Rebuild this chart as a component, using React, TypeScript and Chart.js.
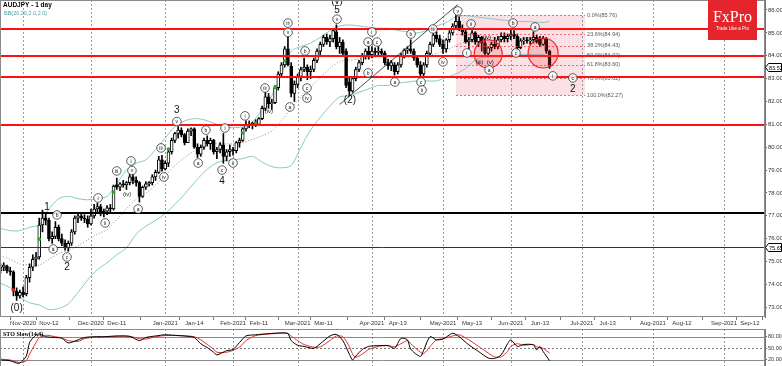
import React, { useEffect, useRef } from 'react';
import { Chart, registerables } from 'chart.js';
Chart.register(...registerables);

const FONT = "'Liberation Sans', Arial, sans-serif";

// ---- daily candles, index 0 = 22 Oct 2020 (weekdays) ----
const openP = [
  74.6, 74.75, 74.8, 74.6, 74.55, 73.7, 73.5, 73.65, 73.6, 74.3,
  74.75, 75.1, 75.2, 76.6, 76.9, 76.8, 76.0, 76.1, 76.5, 76.0,
  75.8, 75.6, 75.8, 76.3, 76.9, 77.0, 76.9, 76.85, 76.65, 77.0,
  77.3, 77.4, 77.1, 77.2, 77.35, 77.3, 78.35, 78.25, 78.4, 78.35,
  78.45, 78.7, 78.55, 78.45, 77.85, 78.25, 78.4, 78.45, 78.7, 78.9,
  79.45, 79.05, 79.3, 79.8, 80.3, 80.6, 80.75, 80.55, 80.2, 80.7,
  80.8, 80.0, 79.7, 80.0, 80.3, 80.15, 80.3, 79.8, 79.9, 80.1,
  79.6, 79.8, 79.9, 79.85, 80.2, 80.3, 80.8, 81.0, 80.95, 81.05,
  81.0, 81.25, 81.7, 82.2, 81.9, 81.95, 82.6, 83.2, 83.6, 84.3,
  83.55, 82.35, 82.75, 83.1, 83.4, 83.5, 83.3, 83.4, 83.8, 84.2,
  84.5, 84.8, 84.6, 84.75, 85.05, 84.4, 84.6, 84.2, 82.85, 82.45,
  83.0, 83.4, 83.7, 84.0, 84.2, 84.05, 84.2, 84.15, 84.2, 84.1,
  83.7, 83.55, 83.6, 83.3, 83.6, 84.0, 84.25, 84.3, 84.2, 83.9,
  83.6, 83.2, 83.6, 84.1, 84.5, 84.9, 84.75, 84.5, 84.3, 84.7,
  85.0, 85.3, 85.5, 85.2, 85.05, 84.6, 84.7, 85.0, 84.6, 84.8,
  84.55, 84.1, 84.35, 84.5, 84.4, 84.7, 84.85, 84.75, 84.85, 84.95,
  84.85, 84.35, 84.65, 84.7, 84.65, 84.7, 84.8, 84.75, 84.5, 84.75,
  84.2,
];
const highP = [
  74.9, 74.95, 74.85, 74.75, 74.6, 73.85, 73.75, 73.9, 74.4, 74.9,
  75.3, 75.4, 76.9, 77.25, 77.1, 76.9, 76.3, 76.75, 76.6, 76.2,
  75.95, 75.9, 76.4, 77.0, 77.1, 77.15, 77.05, 77.0, 77.3, 77.5,
  77.55, 77.5, 77.3, 77.45, 77.5, 78.35, 78.65, 78.45, 78.55, 78.5,
  78.85, 78.85, 78.7, 78.5, 78.3, 78.5, 78.5, 78.8, 79.0, 79.6,
  79.65, 79.4, 79.9, 80.4, 80.65, 80.9, 80.85, 80.6, 80.8, 80.85,
  80.85, 80.15, 80.1, 80.4, 80.5, 80.4, 80.35, 80.0, 80.2, 80.6,
  79.9, 80.1, 80.0, 80.25, 80.4, 80.85, 81.15, 81.15, 81.1, 81.2,
  81.3, 81.8, 82.4, 82.35, 82.1, 82.7, 83.3, 83.7, 84.4, 84.85,
  83.7, 82.9, 83.2, 83.5, 83.9, 83.6, 83.55, 83.9, 84.3, 84.6,
  84.9, 84.95, 84.9, 85.2, 85.35, 84.8, 84.7, 84.3, 83.05, 83.1,
  83.5, 83.8, 84.1, 84.3, 84.4, 84.4, 84.35, 84.4, 84.3, 84.2,
  83.85, 83.8, 83.7, 83.7, 84.1, 84.3, 84.4, 84.7, 84.3, 84.0,
  83.75, 83.7, 84.2, 84.6, 85.0, 85.05, 84.9, 84.7, 84.75, 85.1,
  85.4, 85.76, 85.7, 85.35, 85.15, 84.8, 85.1, 85.05, 84.9, 84.85,
  84.75, 84.4, 84.6, 84.8, 84.85, 85.0, 85.0, 84.95, 85.15, 85.1,
  84.95, 84.75, 84.8, 84.8, 84.8, 85.05, 84.9, 84.85, 84.85, 84.8,
  84.25,
];
const lowP = [
  74.5, 74.6, 74.5, 74.4, 73.5, 73.3, 73.4, 73.45, 73.5, 74.1,
  74.6, 74.8, 75.1, 76.3, 76.6, 75.9, 75.8, 76.0, 75.9, 75.7,
  75.5, 75.45, 75.7, 76.2, 76.7, 76.8, 76.7, 76.5, 76.6, 76.9,
  77.1, 77.0, 76.95, 77.05, 77.15, 77.25, 78.15, 78.1, 78.25, 78.15,
  78.35, 78.4, 78.3, 77.6, 77.8, 78.15, 78.3, 78.35, 78.55, 78.85,
  78.95, 79.0, 79.15, 79.7, 80.2, 80.4, 80.45, 80.1, 80.2, 80.5,
  79.95, 79.55, 79.6, 79.9, 80.05, 79.9, 79.7, 79.5, 79.75, 79.3,
  79.4, 79.6, 79.65, 79.75, 80.0, 80.25, 80.7, 80.85, 80.8, 80.9,
  80.95, 81.2, 81.6, 81.7, 81.65, 81.9, 82.5, 83.1, 83.5, 83.55,
  82.2, 82.0, 82.6, 82.9, 83.3, 82.95, 83.0, 83.3, 83.7, 84.05,
  84.4, 84.5, 84.4, 84.6, 84.3, 84.1, 84.0, 82.6, 82.27, 82.4,
  82.9, 83.3, 83.6, 83.85, 83.85, 83.9, 84.05, 84.0, 84.0, 83.6,
  83.4, 83.35, 83.15, 83.2, 83.5, 83.9, 84.1, 84.1, 83.8, 83.5,
  83.05, 83.1, 83.5, 84.0, 84.4, 84.6, 84.4, 84.1, 84.15, 84.6,
  84.9, 85.2, 85.1, 84.9, 84.55, 84.3, 84.6, 84.5, 84.4, 84.2,
  84.0, 83.95, 84.2, 84.3, 84.3, 84.6, 84.6, 84.6, 84.7, 84.75,
  84.2, 84.3, 84.5, 84.55, 84.5, 84.55, 84.55, 84.4, 84.45, 84.1,
  83.45,
];
const closeP = [
  74.75, 74.85, 74.6, 74.55, 73.7, 73.5, 73.65, 73.55, 74.3, 74.75,
  75.1, 75.2, 76.6, 76.9, 76.8, 76.0, 76.1, 76.5, 76.0, 75.8,
  75.6, 75.8, 76.3, 76.9, 77.0, 76.9, 76.85, 76.65, 77.0, 77.3,
  77.4, 77.1, 77.2, 77.35, 77.3, 78.3, 78.25, 78.4, 78.35, 78.45,
  78.7, 78.55, 78.45, 77.85, 78.25, 78.4, 78.45, 78.7, 78.9, 79.45,
  79.05, 79.3, 79.8, 80.3, 80.6, 80.75, 80.55, 80.2, 80.7, 80.8,
  80.0, 79.7, 80.0, 80.3, 80.15, 80.3, 79.8, 79.9, 80.1, 79.6,
  79.8, 79.9, 79.85, 80.2, 80.3, 80.8, 81.0, 80.95, 81.05, 81.0,
  81.25, 81.7, 82.2, 81.9, 81.95, 82.6, 83.2, 83.6, 84.3, 83.6,
  82.35, 82.75, 83.1, 83.4, 83.5, 83.3, 83.4, 83.8, 84.2, 84.5,
  84.8, 84.6, 84.75, 85.1, 84.4, 84.6, 84.1, 82.7, 82.45, 83.0,
  83.4, 83.7, 84.0, 84.2, 84.05, 84.2, 84.15, 84.2, 84.1, 83.7,
  83.55, 83.7, 83.3, 83.6, 84.0, 84.25, 84.3, 84.2, 83.9, 83.6,
  83.2, 83.6, 84.1, 84.5, 84.9, 84.75, 84.5, 84.3, 84.7, 85.0,
  85.3, 85.5, 85.2, 85.05, 84.6, 84.7, 85.0, 84.6, 84.8, 84.55,
  84.1, 84.35, 84.5, 84.4, 84.7, 84.85, 84.75, 84.85, 84.95, 84.85,
  84.35, 84.65, 84.7, 84.65, 84.7, 84.8, 84.6, 84.5, 84.75, 84.2,
  83.52,
];

// ---- Bollinger bands BB(20,2) read at sparse bars ----
const bbIdx = [0, 3, 6, 9, 12, 15, 18, 21, 24, 27, 30, 33, 36, 39, 42, 45, 48, 51, 54, 57, 60, 63, 66, 69, 72, 75, 78, 81, 84, 87, 90, 93, 96, 99, 102, 105, 108, 111, 114, 117, 120, 123, 126, 129, 132, 135, 138, 141, 144, 147, 150, 153, 156, 159, 162, 165, 168, 170];
const bbUpper = [76.45, 76.35, 76.35, 76.5, 76.6, 77.3, 77.75, 77.85, 77.75, 77.7, 77.75, 77.85, 78.4, 79.0, 79.3, 79.45, 79.9, 80.4, 80.9, 81.15, 81.25, 81.2, 81.05, 80.9, 80.85, 80.9, 81.1, 81.65, 82.25, 83.2, 84.2, 84.4, 84.55, 84.8, 85.1, 85.3, 85.35, 85.3, 85.25, 85.2, 85.2, 85.1, 85.05, 85.0, 85.1, 85.3, 85.45, 85.7, 85.75, 85.7, 85.65, 85.6, 85.55, 85.5, 85.5, 85.48, 85.45, 85.5];
const bbMiddle = [75.25, 75.1, 74.9, 74.85, 74.85, 75.1, 75.35, 75.5, 75.7, 75.95, 76.2, 76.4, 76.85, 77.3, 77.75, 78.0, 78.35, 78.75, 79.2, 79.55, 79.85, 80.05, 80.15, 80.15, 80.15, 80.2, 80.35, 80.5, 80.7, 81.15, 81.7, 82.2, 82.65, 83.05, 83.45, 83.75, 83.8, 83.85, 83.9, 83.95, 83.95, 83.95, 83.95, 83.95, 84.0, 84.1, 84.25, 84.45, 84.6, 84.75, 84.8, 84.78, 84.78, 84.78, 84.78, 84.77, 84.75, 84.68];
const bbLower = [74.05, 73.85, 73.45, 73.2, 73.1, 72.9, 72.95, 73.15, 73.65, 74.2, 74.65, 74.95, 75.3, 75.6, 76.2, 76.55, 76.8, 77.1, 77.5, 77.95, 78.45, 78.9, 79.25, 79.4, 79.45, 79.5, 79.6, 79.35, 79.15, 79.1, 79.2, 80.0, 80.75, 81.3, 81.8, 82.2, 82.25, 82.4, 82.55, 82.7, 82.7, 82.8, 82.85, 82.9, 82.9, 82.9, 83.05, 83.2, 83.45, 83.8, 83.95, 83.96, 84.0, 84.05, 84.05, 84.06, 84.05, 83.86];

// ---- Stochastic slow (14,3), sparse readings ----
const stoIdx = [0, 3, 5, 6, 8, 9, 11, 12, 14, 17, 19, 21, 24, 26, 29, 32, 36, 40, 43, 45, 48, 51, 55, 58, 60, 62, 64, 66, 67, 70, 72, 74, 76, 79, 83, 87, 89, 90, 92, 94, 97, 99, 102, 104, 106, 108, 109, 110, 112, 114, 117, 120, 122, 124, 126, 127, 130, 131, 133, 135, 137, 140, 142, 145, 148, 151, 153, 155, 157, 158, 160, 162, 165, 166, 167, 168, 170];
const stoMain = [20, 18, 12, 12, 30, 65, 85, 87, 80, 78, 76, 64, 72, 78, 80, 80, 82, 81, 70, 78, 82, 85, 83, 81, 78, 62, 52, 40, 33, 44, 47, 65, 82, 85, 88, 90, 88, 70, 58, 55, 50, 62, 82, 86, 70, 35, 20, 30, 47, 55, 57, 57, 50, 76, 72, 48, 29, 45, 80, 72, 74, 89, 80, 59, 42, 25, 24, 33, 62, 72, 55, 60, 59, 46, 55, 42, 18];
const stoSignal = [22, 20, 15, 13, 18, 35, 65, 78, 84, 80, 77, 70, 68, 75, 79, 80, 81, 81, 75, 74, 80, 83, 83, 82, 80, 72, 60, 48, 40, 40, 45, 53, 70, 83, 87, 89, 89, 82, 70, 60, 53, 54, 70, 82, 80, 55, 35, 27, 35, 47, 55, 57, 54, 62, 70, 62, 40, 36, 55, 72, 75, 82, 85, 72, 55, 38, 28, 28, 42, 55, 62, 58, 60, 54, 52, 50, 38];

// ---- axes ----
const xMin = -0.155;
const xMax = 236.7;
const yMin = 72.576;
const yMax = 86.437;
const xTickIdx = [7, 15, 28, 36, 51, 60, 72, 80, 92, 100, 115, 123, 137, 146, 158, 167, 180, 188, 202, 211, 224, 232];
const xTickText = ['Nov-2020', 'Nov-12', 'Dec-2020', 'Dec-11', 'Jan-2021', 'Jan-14', 'Feb-2021', 'Feb-11', 'Mar-2021', 'Mar-11', 'Apr-2021', 'Apr-13', 'May-2021', 'May-13', 'Jun-2021', 'Jun-13', 'Jul-2021', 'Jul-13', 'Aug-2021', 'Aug-12', 'Sep-2021', 'Sep-12'];
const monthStartIdx = [7, 28, 51, 72, 92, 115, 137, 158, 180, 202, 224];
const yTicks = [73, 74, 75, 76, 77, 78, 79, 80, 81, 82, 83, 84, 85, 86];
const stoTicks = [20, 50, 80];

// ---- drawings ----
const redLevels = [85.15, 84.0, 83.05, 80.95];
const blackLevel = 77.11;
const thinLevel = 75.65;
const priceBoxes = [83.52, 75.65];
const fibFrom = 141;
const fibTo = 181;
const fibPct = ['0.0', '23.6', '38.2', '50.0', '61.8', '78.6', '100.0'];
const fibPrice = [85.76, 84.94, 84.43, 84.02, 83.6, 83.02, 82.27];
const trendIdx = [105, 141.6];
const trendPrice = [81.87, 86.24];
const circleIdx = [151, 168];
const circlePrice = [84.08, 84.12];
const greenIdx = [12, 35, 52, 75, 79, 85, 88];
const greenVal = [75.98, 78.04, 79.92, 80.62, 81.06, 82.63, 83.77];
const redDotIdx = [4];
const redDotVal = [73.76];

// [text, bar index, price, kind]  c = circled, p = small plain, b = big
const waveLabels: [string, number, number, string][] = [
  ['(0)', 5, 72.97, 'b'], ['1', 14.4, 77.39, 'b'], ['b', 17.5, 77.04, 'c'], ['a', 16.3, 75.55, 'c'],
  ['c', 20.6, 75.2, 'c'], ['2', 20.6, 74.76, 'b'], ['i', 30.2, 77.78, 'c'], ['ii', 32.4, 76.69, 'c'],
  ['iii', 36, 78.96, 'c'], ['(iv)', 39.2, 77.95, 'p'], ['i', 40.4, 79.4, 'c'], ['v', 40.7, 78.98, 'c'],
  ['a', 42.6, 77.3, 'c'], ['iii', 49.7, 79.97, 'c'], ['iv', 50.6, 78.7, 'c'], ['v', 54.6, 81.12, 'c'],
  ['3', 54.6, 81.6, 'b'], ['a', 61.2, 79.31, 'c'], ['b', 63.6, 80.75, 'c'], ['i', 69.5, 80.84, 'c'],
  ['c', 68.6, 79.0, 'c'], ['4', 68.6, 78.5, 'b'], ['ii', 72, 79.31, 'c'], ['i', 75.7, 81.37, 'c'],
  ['iii', 81.9, 82.59, 'c'], ['(iv)', 83.1, 81.58, 'p'], ['iii', 89, 85.43, 'c'], ['v', 89, 85.02, 'c'],
  ['a', 89.6, 81.76, 'c'], ['b', 94.3, 84.21, 'c'], ['c', 94.9, 82.59, 'c'], ['iv', 94.9, 82.15, 'c'],
  ['(v)', 104.2, 86.4, 'b'], ['5', 104.2, 85.98, 'b'], ['v', 104.2, 85.6, 'c'], ['(2)', 108.2, 82.06, 'b'],
  ['i', 115, 85.04, 'c'], ['a', 113.8, 84.6, 'c'], ['c', 116.6, 84.6, 'c'], ['b', 113.8, 83.25, 'c'],
  ['a', 122.1, 82.85, 'c'], ['b', 127.1, 84.95, 'c'], ['c', 130.2, 82.85, 'c'], ['ii', 130.5, 82.5, 'c'],
  ['iii', 133.9, 85.17, 'c'], ['iv', 137, 83.73, 'c'], ['v', 141.6, 85.96, 'c'], ['i', 144.4, 84.12, 'c'],
  ['ii', 145.7, 85.39, 'c'], ['(iii)', 148.3, 83.73, 'p'], ['(v)', 151.6, 83.73, 'p'], ['(iv)', 150.6, 84.82, 'p'],
  ['a', 151.3, 83.38, 'c'], ['b', 158.7, 85.43, 'c'], ['c', 159.6, 84.12, 'c'], ['a', 165.5, 85.26, 'c'],
  ['i', 171, 83.12, 'c'], ['c', 177.2, 83.03, 'c'], ['2', 177.2, 82.55, 'b'],
];

function hline(ctx: any, x1: number, x2: number, y: number) {
  ctx.beginPath(); ctx.moveTo(x1, y); ctx.lineTo(x2, y); ctx.stroke();
}
function vline(ctx: any, x: number, y1: number, y2: number) {
  ctx.beginPath(); ctx.moveTo(x, y1); ctx.lineTo(x, y2); ctx.stroke();
}

const mainPlugin = {
  id: 'mainDeco',
  beforeDatasetsDraw(chart: any) {
    const { ctx, chartArea: a, scales } = chart;
    const x = scales.x, y = scales.y;
    ctx.save();
    const fx1 = x.getPixelForValue(fibFrom), fx2 = x.getPixelForValue(fibTo);
    const fy1 = y.getPixelForValue(fibPrice[0]), fy2 = y.getPixelForValue(fibPrice[fibPrice.length - 1]);
    ctx.fillStyle = 'rgba(230,80,100,0.17)';
    ctx.fillRect(fx1, fy1, fx2 - fx1, fy2 - fy1);
    ctx.strokeStyle = '#9a9a9a'; ctx.lineWidth = 1; ctx.setLineDash([2, 2]);
    for (const m of monthStartIdx) {
      const gx = Math.round(x.getPixelForValue(m)) + 0.5;
      vline(ctx, gx, a.top, a.bottom);
    }
    ctx.restore();
  },
  afterDatasetsDraw(chart: any) {
    const { ctx, chartArea: a, scales } = chart;
    const x = scales.x, y = scales.y;
    ctx.save();
    // fib lines + labels
    const fx1 = x.getPixelForValue(fibFrom), fx2 = x.getPixelForValue(fibTo);
    ctx.setLineDash([2, 2]); ctx.lineWidth = 1; ctx.strokeStyle = 'rgba(225,60,70,0.75)';
    fibPrice.forEach((p) => hline(ctx, fx1, fx2, Math.round(y.getPixelForValue(p)) + 0.5));
    ctx.setLineDash([]);
    ctx.font = `5.5px ${FONT}`; ctx.fillStyle = '#555'; ctx.textBaseline = 'middle'; ctx.textAlign = 'left';
    fibPrice.forEach((p, k) => ctx.fillText(`${fibPct[k]}%(${p.toFixed(2)})`, fx2 + 2, y.getPixelForValue(p)));
    // horizontal levels
    ctx.strokeStyle = '#ff1010'; ctx.lineWidth = 2;
    redLevels.forEach((p) => hline(ctx, a.left, a.right, Math.round(y.getPixelForValue(p))));
    ctx.strokeStyle = '#000'; ctx.lineWidth = 2;
    hline(ctx, a.left, a.right, Math.round(y.getPixelForValue(blackLevel)));
    ctx.strokeStyle = '#333'; ctx.lineWidth = 1;
    hline(ctx, a.left, a.right, Math.round(y.getPixelForValue(thinLevel)) + 0.5);
    // trendline
    ctx.strokeStyle = '#222'; ctx.lineWidth = 0.8;
    ctx.beginPath();
    ctx.moveTo(x.getPixelForValue(trendIdx[0]), y.getPixelForValue(trendPrice[0]));
    ctx.lineTo(x.getPixelForValue(trendIdx[1]), y.getPixelForValue(trendPrice[1]));
    ctx.stroke();
    // red circles
    circleIdx.forEach((ci, k) => {
      ctx.beginPath();
      ctx.arc(x.getPixelForValue(ci), y.getPixelForValue(circlePrice[k]), k === 0 ? 14 : 15, 0, Math.PI * 2);
      ctx.fillStyle = 'rgba(255,60,60,0.22)'; ctx.fill();
      ctx.strokeStyle = '#ff2020'; ctx.lineWidth = 1.2; ctx.stroke();
    });
    // wave labels
    ctx.textAlign = 'center'; ctx.textBaseline = 'middle';
    for (const [t, wi, wp, kind] of waveLabels) {
      const lx = x.getPixelForValue(wi), ly = y.getPixelForValue(wp);
      if (kind === 'c') {
        ctx.beginPath(); ctx.arc(lx, ly, 4.3, 0, Math.PI * 2);
        ctx.fillStyle = 'rgba(255,255,255,0.85)'; ctx.fill();
        ctx.strokeStyle = '#333'; ctx.lineWidth = 0.8; ctx.stroke();
        ctx.fillStyle = '#111'; ctx.font = `5px ${FONT}`;
        ctx.fillText(t, lx, ly + 0.3);
      } else if (kind === 'b') {
        ctx.fillStyle = '#111'; ctx.font = `10px ${FONT}`;
        ctx.fillText(t, lx, ly);
      } else {
        ctx.fillStyle = '#111'; ctx.font = `6px ${FONT}`;
        ctx.fillText(t, lx, ly);
      }
    }
    // border
    ctx.strokeStyle = '#8a8a8a'; ctx.lineWidth = 1;
    ctx.strokeRect(a.left + 0.5, a.top + 0.5, a.right - a.left - 1, a.bottom - a.top - 1);
    // logo
    const lr = a.right - 8, ll = lr - 49;
    ctx.fillStyle = '#e5252b'; ctx.fillRect(ll, 0, lr - ll, 40);
    ctx.fillStyle = '#fff'; ctx.textAlign = 'center'; ctx.textBaseline = 'alphabetic';
    ctx.font = `16px 'Liberation Serif', 'DejaVu Serif', serif`;
    ctx.fillText('FxPro', (ll + lr) / 2, 22);
    ctx.font = `4.5px ${FONT}`;
    ctx.fillText('Trade Like a Pro', (ll + lr) / 2, 30);
    // title
    ctx.textAlign = 'left'; ctx.textBaseline = 'middle';
    ctx.fillStyle = '#000'; ctx.font = `bold 6.5px ${FONT}`;
    ctx.fillText('AUDJPY - 1 day', 3, 5);
    ctx.fillStyle = '#4a9e9e'; ctx.font = `5.5px ${FONT}`;
    ctx.fillText('BB(20,20,2.0,2.0)', 4, 13);
    // price boxes on axis
    priceBoxes.forEach((p) => {
      const by = Math.round(y.getPixelForValue(p)) + 0.5;
      const bx = a.right + 0.5, br = chart.width - 0.5;
      ctx.beginPath();
      ctx.moveTo(bx, by); ctx.lineTo(bx + 3, by - 4); ctx.lineTo(br, by - 4);
      ctx.lineTo(br, by + 4); ctx.lineTo(bx + 3, by + 4); ctx.closePath();
      ctx.fillStyle = '#fff'; ctx.fill(); ctx.strokeStyle = '#000'; ctx.lineWidth = 1; ctx.stroke();
      ctx.fillStyle = '#000'; ctx.font = `5.5px ${FONT}`; ctx.textAlign = 'left';
      ctx.fillText(p.toFixed(2), bx + 3.5, by + 0.5);
    });
    ctx.restore();
  },
};

const stoPlugin = {
  id: 'stoDeco',
  beforeDatasetsDraw(chart: any) {
    const { ctx, chartArea: a, scales } = chart;
    const x = scales.x, y = scales.y;
    ctx.save();
    ctx.strokeStyle = '#9a9a9a'; ctx.lineWidth = 1; ctx.setLineDash([2, 2]);
    for (const m of monthStartIdx) {
      const gx = Math.round(x.getPixelForValue(m)) + 0.5;
      vline(ctx, gx, a.top, a.bottom);
    }
    ctx.setLineDash([]); ctx.strokeStyle = '#8a8a8a';
    hline(ctx, a.left, a.right, Math.round(y.getPixelForValue(80)) + 0.5);
    hline(ctx, a.left, a.right, Math.round(y.getPixelForValue(20)) + 0.5);
    ctx.setLineDash([2, 2]); ctx.strokeStyle = '#777';
    hline(ctx, a.left, a.right, Math.round(y.getPixelForValue(50)) + 0.5);
    ctx.restore();
  },
  afterDatasetsDraw(chart: any) {
    const { ctx, chartArea: a } = chart;
    ctx.save();
    ctx.strokeStyle = '#8a8a8a'; ctx.lineWidth = 1;
    ctx.strokeRect(a.left + 0.5, a.top + 0.5, a.right - a.left - 1, a.bottom - a.top);
    ctx.fillStyle = '#000'; ctx.font = `bold 6px 'Liberation Serif', serif`;
    ctx.textAlign = 'left'; ctx.textBaseline = 'middle';
    ctx.fillText('STO Slow(14,3)', 3, a.top + 5);
    ctx.restore();
  },
};

export default function App() {
  const mainRef = useRef<HTMLCanvasElement>(null);
  const stoRef = useRef<HTMLCanvasElement>(null);

  useEffect(() => {
    document.body.style.margin = '0';
    const bodies = openP.map((o, i) => ({ x: i, y: [o, closeP[i]] }));
    const bodyColors = closeP.map((c, i) => (c >= openP[i] ? '#ffffff' : '#000000'));
    const wicks = lowP.map((l, i) => ({ x: i, y: [l, highP[i]] }));
    const toPts = (idx: number[], vals: number[]) => idx.map((v, k) => ({ x: v, y: vals[k] }));

    const main = new Chart(mainRef.current as any, {
      type: 'bar',
      data: {
        datasets: [
          { type: 'scatter', data: toPts(greenIdx, greenVal), pointRadius: 1.8, pointBackgroundColor: '#20b020', pointBorderWidth: 0, order: -2 } as any,
          { type: 'scatter', data: toPts(redDotIdx, redDotVal), pointRadius: 1.8, pointBackgroundColor: '#e02020', pointBorderWidth: 0, order: -1 } as any,
          { type: 'bar', data: bodies, backgroundColor: bodyColors, borderColor: '#000', borderWidth: 1, borderSkipped: false, barThickness: 3, grouped: false, minBarLength: 1, order: 0 } as any,
          { type: 'bar', data: wicks, backgroundColor: '#000', borderWidth: 0, barThickness: 1, grouped: false, order: 1 } as any,
          { type: 'line', data: toPts(bbIdx, bbUpper), borderColor: '#86c8c8', borderWidth: 1, pointRadius: 0, tension: 0.3, order: 2 } as any,
          { type: 'line', data: toPts(bbIdx, bbMiddle), borderColor: '#8a8a8a', borderWidth: 1, borderDash: [1, 2], pointRadius: 0, tension: 0.3, order: 3 } as any,
          { type: 'line', data: toPts(bbIdx, bbLower), borderColor: '#86c8c8', borderWidth: 1, pointRadius: 0, tension: 0.3, order: 4 } as any,
        ],
      },
      options: {
        animation: false, responsive: false, maintainAspectRatio: false, devicePixelRatio: 1,
        events: [],
        layout: { padding: 0, autoPadding: false },
        plugins: { legend: { display: false }, tooltip: { enabled: false } },
        scales: {
          x: {
            type: 'linear', min: xMin, max: xMax, offset: false, position: 'bottom',
            afterBuildTicks: (s: any) => { s.ticks = xTickIdx.map((v) => ({ value: v })); },
            afterFit: (s: any) => { s.height = 11; s.paddingLeft = 0; s.paddingRight = 0; },
            ticks: { autoSkip: false, maxRotation: 0, minRotation: 0, padding: 0, color: '#333', font: { size: 6, family: FONT }, callback: (_v: any, i: number) => xTickText[i] },
            grid: { drawOnChartArea: false, drawTicks: true, tickLength: 3, color: '#777' },
            border: { display: false },
          },
          y: {
            type: 'linear', position: 'right', min: yMin, max: yMax,
            afterBuildTicks: (s: any) => { s.ticks = yTicks.map((v) => ({ value: v })); },
            afterFit: (s: any) => { s.width = 17; s.paddingTop = 0; s.paddingBottom = 0; },
            ticks: { autoSkip: false, padding: 1, color: '#333', font: { size: 6, family: FONT }, callback: (v: any) => Number(v).toFixed(2) },
            grid: { drawOnChartArea: false, drawTicks: true, tickLength: 2, color: '#666' },
            border: { display: true, color: '#777' },
          },
        },
      } as any,
      plugins: [mainPlugin],
    });

    const sto = new Chart(stoRef.current as any, {
      type: 'line',
      data: {
        datasets: [
          { data: toPts(stoIdx, stoMain), borderColor: '#000', borderWidth: 1, pointRadius: 0, tension: 0.25, order: 0 },
          { data: toPts(stoIdx, stoSignal), borderColor: '#e03030', borderWidth: 1, pointRadius: 0, tension: 0.25, order: 1 },
        ],
      },
      options: {
        animation: false, responsive: false, maintainAspectRatio: false, devicePixelRatio: 1,
        events: [],
        layout: { padding: { top: 1, bottom: 0, left: 0, right: 0 }, autoPadding: false },
        plugins: { legend: { display: false }, tooltip: { enabled: false } },
        scales: {
          x: { type: 'linear', min: xMin, max: xMax, display: false },
          y: {
            type: 'linear', position: 'right', min: 4.4, max: 100,
            afterBuildTicks: (s: any) => { s.ticks = stoTicks.map((v) => ({ value: v })); },
            afterFit: (s: any) => { s.width = 17; s.paddingTop = 0; s.paddingBottom = 0; },
            ticks: { autoSkip: false, padding: 1, color: '#333', font: { size: 5.5, family: FONT }, callback: (v: any) => Number(v).toFixed(2) },
            grid: { drawOnChartArea: false, drawTicks: true, tickLength: 2, color: '#666' },
            border: { display: true, color: '#777' },
          },
        },
      } as any,
      plugins: [stoPlugin],
    });

    return () => { main.destroy(); sto.destroy(); };
  }, []);

  return (
    <div style={{ position: 'relative', width: 782, height: 366, background: '#fff', overflow: 'hidden' }}>
      <canvas ref={mainRef} width={782} height={328} style={{ position: 'absolute', left: 0, top: 0, width: 782, height: 328 }} />
      <canvas ref={stoRef} width={782} height={38} style={{ position: 'absolute', left: 0, top: 328, width: 782, height: 38 }} />
    </div>
  );
}
